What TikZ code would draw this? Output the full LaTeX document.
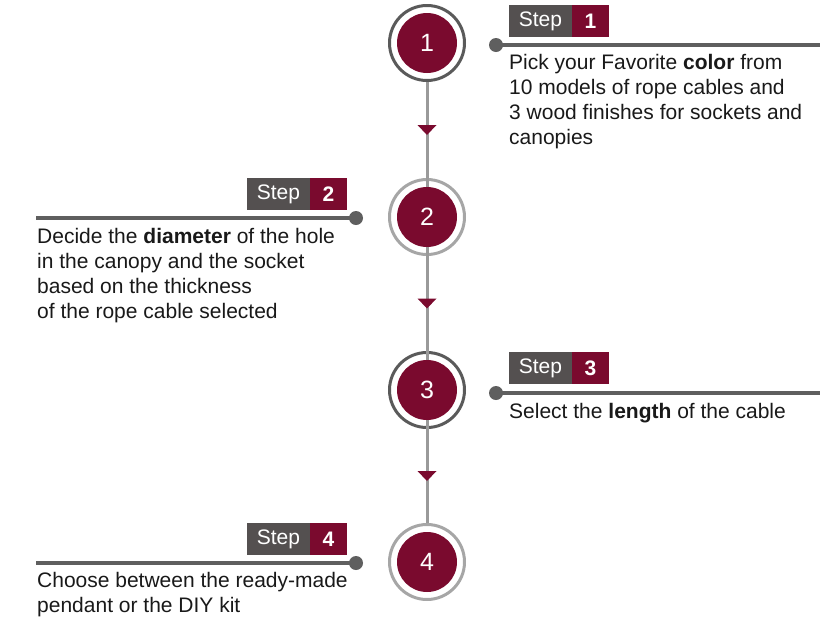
\documentclass[tikz,border=0pt]{standalone}
\usepackage{fontspec}
\setmainfont{Liberation Sans}
\usetikzlibrary{positioning}

\definecolor{wine}{HTML}{7A0A2E}
\definecolor{taggray}{HTML}{545050}
\definecolor{leadgray}{HTML}{5F5F5F}
\definecolor{ringdark}{HTML}{5A5A5A}
\definecolor{ringlight}{HTML}{A6A6A6}
\definecolor{spine}{HTML}{9A9A9A}

\begin{document}
\begin{tikzpicture}[
    x=1pt, y=-1pt,
    ring/.style={circle, draw, line width=3pt, minimum size=75pt, inner sep=0pt},
    disc/.style={circle, fill=wine, text=white, minimum size=60pt, inner sep=0pt,
        font=\fontsize{25}{25}\selectfont},
    steptag/.style={fill=taggray, text=white, minimum height=32pt, minimum width=63pt,
        inner sep=0pt, outer sep=0pt, font=\fontsize{21}{21}\selectfont},
    numtag/.style={fill=wine, text=white, minimum height=32pt, minimum width=37pt,
        inner sep=0pt, outer sep=0pt, font=\fontsize{21}{21}\selectfont\bfseries},
    pin/.style={circle, fill=leadgray, minimum size=14pt, inner sep=0pt},
    leader/.style={draw=leadgray, line width=3.5pt},
    desc/.style={align=left, inner sep=0pt, text=black!90, font=\fontsize{21}{25}\selectfont}
]
\useasboundingbox (0,0) rectangle (820,622);

% rings along the spine
\foreach \i/\y/\c in {1/43/ringdark, 2/217/ringlight, 3/390/ringdark, 4/562/ringlight}
    \node[ring, draw=\c] (r\i) at (427,\y) {};
\draw[spine, line width=3pt] (r1.south) -- (r4.north);
\foreach \i in {1,2,3}{
    \pgfmathtruncatemacro{\j}{\i+1}
    \path (r\i.south) -- (r\j.north) coordinate[midway] (m\i);
    \fill[wine, shift={(m\i)}] (-9.5,-5) -- (9.5,-5) -- (0,5) -- cycle;
}
\foreach \i/\y in {1/43, 2/217, 3/390, 4/562}
    \node[disc] (c\i) at (427,\y) {\i};

% step 1 (base = last line)
\node[steptag, anchor=south west] (s1) at (509,37) {Step};
\node[numtag, right=0pt of s1] (k1) {1};
\node[pin] (p1) at (496,45) {};
\coordinate (e1) at (820,45);
\draw[leader] (p1.center) -- (e1);
\node[desc, anchor=base west] (d1) at (509,144)
    {Pick your Favorite \textbf{color} from\\10 models of rope cables and\\3 wood finishes for sockets and\\canopies};

% step 2
\node[numtag, anchor=south east] (k2) at (347,210) {2};
\node[steptag, left=0pt of k2] (s2) {Step};
\node[pin] (p2) at (356,218) {};
\coordinate (e2) at (36,218);
\draw[leader] (e2) -- (p2.center);
\node[desc, anchor=base west] (d2) at (37,318)
    {Decide the \textbf{diameter} of the hole\\in the canopy and the socket\\based on the thickness\\of the rope cable selected};

% step 3
\node[steptag, anchor=south west] (s3) at (509,384) {Step};
\node[numtag, right=0pt of s3] (k3) {3};
\node[pin] (p3) at (496,393) {};
\coordinate (e3) at (820,393);
\draw[leader] (p3.center) -- (e3);
\node[desc, anchor=base west] (d3) at (509,418) {Select the \textbf{length} of the cable};

% step 4
\node[numtag, anchor=south east] (k4) at (347,555) {4};
\node[steptag, left=0pt of k4] (s4) {Step};
\node[pin] (p4) at (356,563) {};
\coordinate (e4) at (36,563);
\draw[leader] (e4) -- (p4.center);
\node[desc, anchor=base west] (d4) at (37,612)
    {Choose between the ready-made\\pendant or the DIY kit};
\end{tikzpicture}
\end{document}
